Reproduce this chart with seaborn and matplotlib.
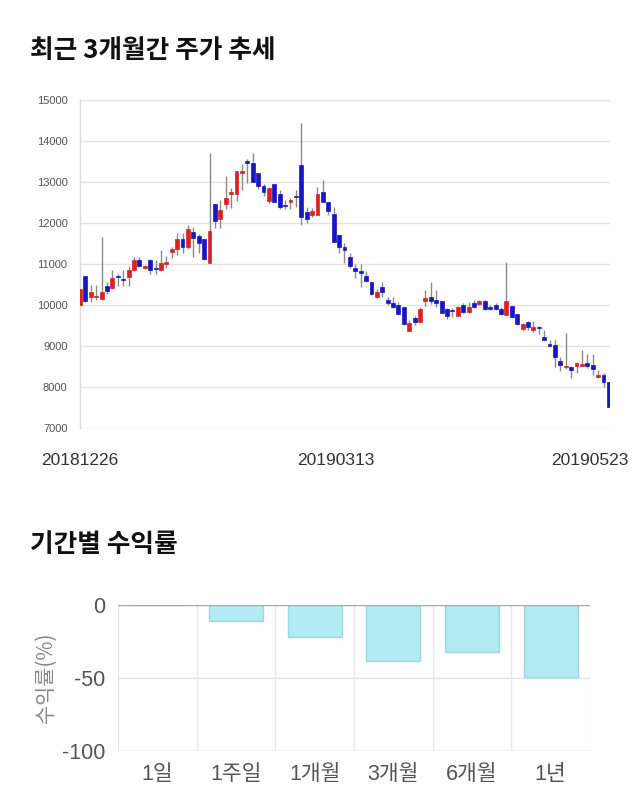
import numpy as np
import pandas as pd
import matplotlib
matplotlib.use("Agg")
import matplotlib.pyplot as plt
import matplotlib.transforms as mtransforms
import seaborn as sns

# ---------------- data ----------------
opens = [10000, 10700, 10200, 10200, 10140, 10460, 10420, 10700, 10640, 10690,
         10850, 11100, 10900, 11100, 10880, 10850, 10990, 11300, 11370, 11610,
         11410, 11780, 11690, 11600, 11020, 12456, 12098, 12456, 12700, 12700,
         13210, 13480, 13470, 13210, 12900, 12545, 12950, 12710, 12430, 12500,
         12650, 13415, 12260, 12200, 12200, 12760, 12500, 12210, 11710, 11420,
         11160, 10900, 10830, 10710, 10550, 10200, 10450, 10120, 10060, 10000,
         9940, 9375, 9675, 9580, 10100, 10200, 10120, 10100, 9900, 9860,
         9730, 10000, 9820, 10060, 10020, 10100, 9960, 10000, 9900, 9760,
         9975, 9780, 9410, 9595, 9390, 9460, 9210, 9020, 9025, 8640,
         8490, 8480, 8500, 8520, 8580, 8540, 8250, 8290, 8130]
closes = [10400, 10100, 10320, 10230, 10320, 10340, 10660, 10680, 10600, 10850,
          11100, 10950, 10950, 10850, 10870, 11030, 11050, 11360, 11610, 11410,
          11860, 11640, 11500, 11115, 11800, 12056, 12317, 12600, 12760, 13270,
          13270, 13470, 13000, 12910, 12750, 12850, 12500, 12400, 12420, 12560,
          12640, 12150, 12100, 12300, 12710, 12500, 12300, 11545, 11410, 11340,
          10950, 10840, 10790, 10590, 10260, 10320, 10310, 10060, 9945, 9780,
          9530, 9555, 9595, 9900, 10160, 10100, 10060, 9815, 9740, 9850,
          9940, 9820, 9960, 9960, 10100, 9900, 9900, 9900, 9780, 10100,
          9715, 9535, 9535, 9470, 9460, 9440, 9150, 9010, 8720, 8540,
          8510, 8415, 8590, 8540, 8500, 8430, 8290, 8110, 7520]
highs = [10450, 10700, 10490, 10490, 11670, 10560, 10850, 10760, 10850, 10950,
         11180, 11180, 10980, 11130, 11100, 11340, 11200, 11420, 11750, 11750,
         11950, 11900, 11720, 11600, 13700, 12456, 12560, 13150, 12850, 13270,
         13440, 13560, 13715, 13210, 12960, 12890, 12950, 12800, 12560, 12600,
         12800, 14430, 12400, 12360, 12890, 13050, 12520, 12400, 11710, 11500,
         11270, 11010, 11010, 10820, 10550, 10400, 10550, 10200, 10200, 10080,
         9940, 9640, 9720, 9940, 10365, 10550, 10365, 10100, 9920, 9920,
         9970, 10040, 10080, 10130, 10130, 10130, 10000, 10040, 9950, 11060,
         9975, 9780, 9560, 9620, 9600, 9480, 9400, 9140, 9140, 8740,
         9325, 8500, 8620, 8900, 8800, 8800, 8420, 8340, 8130]
lows = [9950, 10080, 10070, 10130, 10120, 10280, 10380, 10460, 10460, 10460,
        10820, 10920, 10880, 10750, 10750, 10820, 10900, 11150, 11220, 11260,
        11360, 11180, 11280, 11100, 11020, 11870, 11870, 12350, 12370, 12530,
        12800, 12980, 13000, 12820, 12660, 12490, 12500, 12350, 12340, 12330,
        12400, 11950, 11990, 12150, 12200, 12500, 12200, 11545, 11270, 11020,
        10900, 10650, 10450, 10560, 10240, 10180, 10200, 10000, 9920, 9760,
        9510, 9375, 9510, 9580, 9980, 10030, 9940, 9815, 9670, 9700,
        9720, 9800, 9800, 9930, 10000, 9880, 9870, 9880, 9750, 9760,
        9680, 9510, 9380, 9400, 9350, 9290, 9150, 8990, 8480, 8400,
        8440, 8210, 8330, 8510, 8460, 8300, 8230, 8000, 7520]
date_ticks = ["20181226", "20190313", "20190523"]
date_tick_index = [0, 49, 98]

periods = ["1일", "1주일", "1개월", "3개월", "6개월", "1년"]
returns = [0.0, -11.0, -22.0, -38.5, -32.0, -49.0]

# ---------------- style ----------------
sns.set_theme(style="white")
plt.rcParams["font.family"] = ["Noto Sans CJK KR", "DejaVu Sans"]
plt.rcParams["axes.unicode_minus"] = False
NUMFONT = ["Liberation Sans", "Noto Sans CJK KR", "DejaVu Sans"]

UP = "#d92323"
DOWN = "#1616c4"
WICK = "#8a8a8a"

fig = plt.figure(figsize=(6.4, 8.1), dpi=100)

# ---------------- top: candles ----------------
ax = fig.add_axes([80 / 640, 1 - 428 / 810, 530 / 640, 328 / 810])
o = np.array(opens, float)
c = np.array(closes, float)
h = np.array(highs, float)
l = np.array(lows, float)
x = np.arange(len(o))
colors = [UP if cc > oo else DOWN for oo, cc in zip(o, c)]
bottoms = np.minimum(o, c)
heights = np.maximum(np.abs(c - o), 30)

ax.vlines(x, l, h, color=WICK, linewidth=1, zorder=2)
ax.bar(x, heights, bottom=bottoms, width=0.72, color=colors,
       edgecolor=colors, linewidth=0.5, zorder=3)

ax.set_xlim(0, len(o) - 1 + 0.2)
ax.set_ylim(7000, 15000)
ax.set_yticks(np.arange(7000, 15001, 1000))
ax.yaxis.grid(True, color="#e3e3e3", linewidth=1)
ax.set_axisbelow(True)
for s in ["top", "right", "bottom"]:
    ax.spines[s].set_visible(False)
ax.spines["left"].set_color("#dddddd")
ax.spines["left"].set_linewidth(1)
ax.tick_params(axis="y", length=0, pad=9, labelsize=8, labelcolor="#555555")
for lab in ax.get_yticklabels():
    lab.set_fontfamily(NUMFONT)
ax.set_xticks(date_tick_index)
ax.set_xticklabels(date_ticks)
ax.tick_params(axis="x", length=0, pad=18, labelsize=12.5, labelcolor="#333333")
shifts = [0, -9, -19]
for lab, dx in zip(ax.get_xticklabels(), shifts):
    lab.set_fontfamily(NUMFONT)
    lab.set_transform(lab.get_transform() +
                      mtransforms.ScaledTranslation(dx / 100, 0, fig.dpi_scale_trans))

fig.text(30 / 640, 1 - 50 / 810, "최근 3개월간 주가 추세", fontsize=18.5,
         fontweight="bold", color="#111111", va="center", ha="left")

# ---------------- bottom: returns ----------------
ax2 = fig.add_axes([118 / 640, 1 - 751 / 810, 472 / 640, 146 / 810])
df = pd.DataFrame({"period": periods, "ret": returns})
sns.barplot(data=df, x="period", y="ret", color="#b3ebf3", saturation=1,
            width=0.69, edgecolor="#9fd6df", linewidth=1, ax=ax2, zorder=3)
ax2.set_ylim(-100, 0)
ax2.set_xlim(-0.5, len(periods) - 0.5)
ax2.set_yticks([0, -50, -100])
for yv, col in [(-50, "#e3e3e3"), (-100, "#cccccc")]:
    ax2.axhline(yv, color=col, linewidth=1, zorder=1)
ax2.axhline(0, color="#a8a8a8", linewidth=1, zorder=4)
for xb in np.arange(-0.5, len(periods), 1.0):
    ax2.axvline(xb, color="#e8e8e8", linewidth=1, zorder=1)
for s in ["top", "right", "bottom", "left"]:
    ax2.spines[s].set_visible(False)
ax2.set_xlabel("")
ax2.set_ylabel("수익률(%)", fontsize=15, color="#888888", labelpad=4)
ax2.tick_params(axis="y", length=0, pad=9, labelsize=15.5, labelcolor="#555555")
ax2.tick_params(axis="x", length=0, pad=9, labelsize=15.5, labelcolor="#555555")
for lab in ax2.get_yticklabels() + ax2.get_xticklabels():
    lab.set_fontfamily(NUMFONT)

fig.text(30 / 640, 1 - 545 / 810, "기간별 수익률", fontsize=18.5,
         fontweight="bold", color="#111111", va="center", ha="left")

fig.savefig("out.png", dpi=100, facecolor="white")
